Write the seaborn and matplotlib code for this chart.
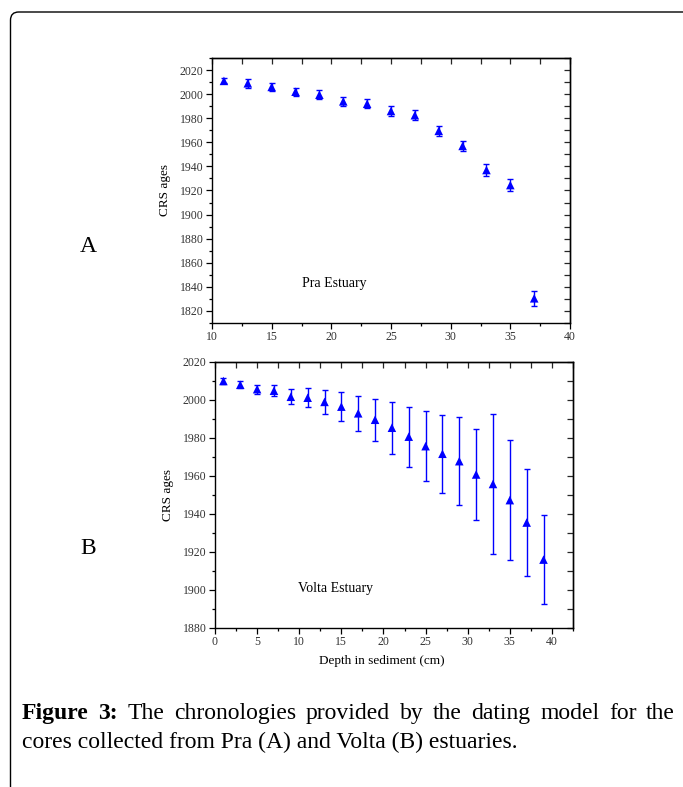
import numpy as np
import pandas as pd
import matplotlib
matplotlib.use("Agg")
import matplotlib.pyplot as plt
import seaborn as sns
from matplotlib.ticker import MultipleLocator, NullFormatter
from matplotlib.patches import FancyBboxPatch

# ---------------- data ----------------
pra_depth = [11, 13, 15, 17, 19, 21, 23, 25, 27, 29, 31, 33, 35, 37]
pra_age = [2011, 2009, 2006, 2002, 1999.5, 1994, 1992, 1986, 1982.5, 1969.5, 1957, 1937, 1924.5, 1830.5]
pra_err = [2.0, 3.5, 3.5, 3.5, 3.7, 4.0, 3.7, 3.8, 4.0, 3.9, 4.2, 4.7, 5.0, 6.0]

volta_depth = [1, 3, 5, 7, 9, 11, 13, 15, 17, 19, 21, 23, 25, 27, 29, 31, 33, 35, 37, 39]
volta_age = [2010, 2008, 2005.7, 2004.9, 2001.7, 2001.2, 1999, 1996.5, 1993, 1989.6,
             1985.4, 1980.7, 1975.7, 1971.7, 1967.8, 1960.8, 1955.8, 1947.3, 1935.5, 1916]
volta_err = [1.5, 1.8, 2.3, 3.0, 3.9, 5.0, 6.2, 7.6, 9.3, 11.0,
             13.7, 15.8, 18.5, 20.6, 23.0, 24.0, 36.7, 31.7, 28.0, 23.5]

ylabel = "CRS ages"
xlabel = "Depth in sediment (cm)"
panel_a_label, panel_b_label = "A", "B"
panel_a_title, panel_b_title = "Pra Estuary", "Volta Estuary"
caption_bold = ["Figure", "3:"]
caption_line1 = "The chronologies provided by the dating model for the"
caption_line2 = "cores collected from Pra (A) and Volta (B) estuaries."

# ---------------- style ----------------
sns.set_style("ticks")
plt.rcParams["font.family"] = ["Liberation Serif", "DejaVu Serif"]
plt.rcParams["axes.linewidth"] = 1.0
plt.rcParams["text.color"] = "black"
plt.rcParams["axes.labelcolor"] = "black"

W, H = 683, 787
fig = plt.figure(figsize=(W / 100, H / 100), dpi=100)

def px_axes(left, top, right, bottom):
    return fig.add_axes([left / W, 1 - bottom / H, (right - left) / W, (bottom - top) / H])

BLUE = "#0000ff"
TICKC = "#333333"

def style_axes(ax, xmaj, xmin, ymaj, ymin):
    ax.xaxis.set_major_locator(MultipleLocator(xmaj))
    ax.xaxis.set_minor_locator(MultipleLocator(xmin))
    ax.yaxis.set_major_locator(MultipleLocator(ymaj))
    ax.yaxis.set_minor_locator(MultipleLocator(ymin))
    ax.tick_params(which="both", direction="out", top=False, right=False,
                   colors="black", labelcolor=TICKC, labelsize=8.5, width=0.9)
    ax.tick_params(which="major", length=4, pad=2)
    ax.tick_params(which="minor", length=2.5)
    for s in ax.spines.values():
        s.set_visible(True)
        s.set_color("black")
    secy = ax.secondary_yaxis("right")
    secy.yaxis.set_major_locator(MultipleLocator(ymaj))
    secy.yaxis.set_minor_locator(MultipleLocator(ymin))
    secy.yaxis.set_major_formatter(NullFormatter())
    secy.tick_params(which="both", direction="in", width=0.9)
    secy.tick_params(which="major", length=4)
    secy.tick_params(which="minor", length=4)
    secx = ax.secondary_xaxis("top")
    secx.xaxis.set_major_locator(MultipleLocator(xmaj))
    secx.xaxis.set_minor_locator(MultipleLocator(xmin))
    secx.xaxis.set_major_formatter(NullFormatter())
    secx.tick_params(which="both", direction="in", width=0.9)
    secx.tick_params(which="major", length=4)
    secx.tick_params(which="minor", length=4)

# ---------------- panel A ----------------
axA = px_axes(212, 58, 570, 323)
dfA = pd.DataFrame({"depth": pra_depth, "age": pra_age, "err": pra_err})
axA.errorbar(dfA["depth"], dfA["age"], yerr=dfA["err"], fmt="none", ecolor=BLUE,
             elinewidth=1.0, capsize=2.5, capthick=1.0, zorder=2)
sns.scatterplot(data=dfA, x="depth", y="age", marker="^", s=38, color=BLUE,
                edgecolor="none", ax=axA, zorder=3)
axA.set_xlim(10, 40)
axA.set_ylim(1810, 2030)
style_axes(axA, 5, 2.5, 20, 10)
axA.set_xlabel("")
axA.set_ylabel(ylabel, fontsize=9.5, labelpad=6)
axA.text(17.5, 1843, panel_a_title, fontsize=10, va="center", ha="left")

# ---------------- panel B ----------------
axB = px_axes(215, 362, 573, 628)
dfB = pd.DataFrame({"depth": volta_depth, "age": volta_age, "err": volta_err})
axB.errorbar(dfB["depth"], dfB["age"], yerr=dfB["err"], fmt="none", ecolor=BLUE,
             elinewidth=1.0, capsize=2.5, capthick=1.0, zorder=2)
sns.scatterplot(data=dfB, x="depth", y="age", marker="^", s=38, color=BLUE,
                edgecolor="none", ax=axB, zorder=3)
axB.set_xlim(0, 42.5)
axB.set_ylim(1880, 2020)
style_axes(axB, 5, 2.5, 20, 10)
axB.set_xlabel(xlabel, fontsize=9.5)
axB.xaxis.set_label_coords(0.466, -0.1)
axB.set_ylabel(ylabel, fontsize=9.5, labelpad=6)
axB.text(9.8, 1901, panel_b_title, fontsize=10, va="center", ha="left")

# panel letters
fig.text(88 / W, 1 - 247 / H, panel_a_label, fontsize=17, ha="center", va="center")
fig.text(88 / W, 1 - 549 / H, panel_b_label, fontsize=17, ha="center", va="center")

# ---------------- frame (open at right and bottom) ----------------
frame = FancyBboxPatch((10.5 / W, -0.05), (700 - 10.5) / W, 1.05 - 12 / H,
                       boxstyle="round,pad=0,rounding_size=0.012",
                       transform=fig.transFigure, fill=False, edgecolor="black",
                       linewidth=1.0, mutation_aspect=W / H, clip_on=False)
fig.patches.append(frame)

# ---------------- caption (justified first line) ----------------
cap_fs = 17
left_px, right_px = 22, 675
y1 = 1 - 719 / H
y2 = 1 - 748 / H
words = [(w, "bold") for w in caption_bold] + [(w, "normal") for w in caption_line1.split()]
texts = [fig.text(0, y1, w, fontsize=cap_fs, fontweight=wt, va="baseline", ha="left",
                  color="black")
         for w, wt in words]
fig.canvas.draw()
r = fig.canvas.get_renderer()
widths = [t.get_window_extent(r).width for t in texts]
gap = (right_px - left_px - sum(widths)) / (len(texts) - 1)
x = left_px
for t, wd in zip(texts, widths):
    t.set_x(x / W)
    x += wd + gap
fig.text(left_px / W, y2, caption_line2, fontsize=cap_fs, va="baseline", ha="left",
         color="black")

fig.savefig("out.png", dpi=100)
